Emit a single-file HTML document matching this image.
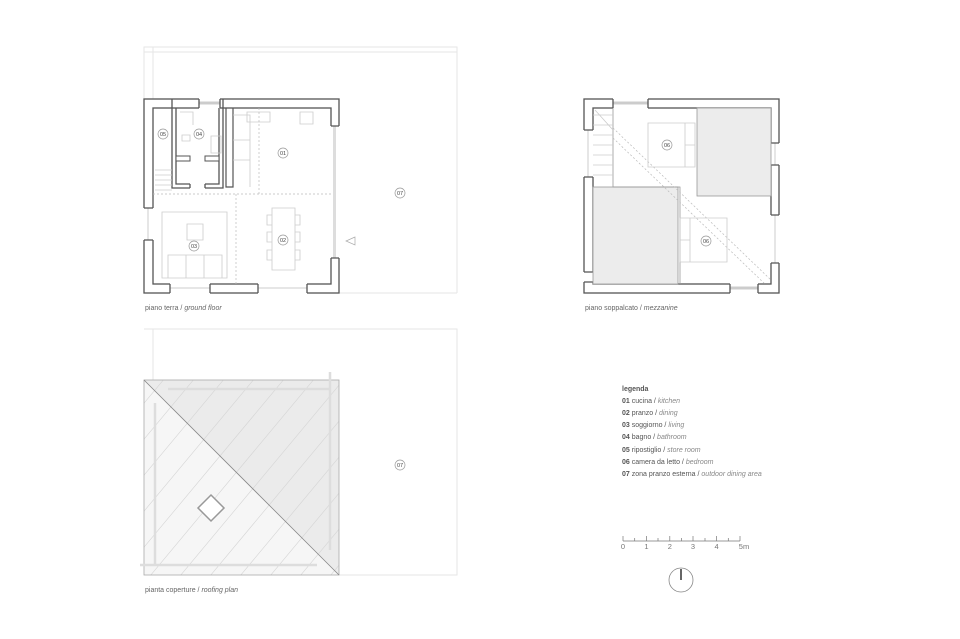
<!DOCTYPE html>
<html><head><meta charset="utf-8"><style>
html,body{margin:0;padding:0;background:#fff;}
svg{display:block;font-family:"Liberation Sans",sans-serif;}
.f{fill:none;stroke:#e6e6e6;stroke-width:1;}
.l{fill:none;stroke:#ccc;stroke-width:0.8;}
.d{fill:none;stroke:#bbb;stroke-width:0.7;stroke-dasharray:2 2;}
.c{fill:#fff;stroke:#999;stroke-width:0.7;}
.n{font-size:5.5px;fill:#444;text-anchor:middle;}
.cap{font-size:7px;fill:#666;}
.lg{font-size:7px;fill:#555;}
.lg tspan.i{font-style:italic;fill:#888;}
.lg tspan.b{font-weight:bold;}
.e{stroke:#555;stroke-width:1.3;fill:none;}
</style></head><body>
<svg width="960" height="639" viewBox="0 0 960 639">
<rect width="960" height="639" fill="#fff"/>
<!-- GROUND FLOOR -->
<path class="f" d="M144 293V47H457V293M144 52H457M153 47V293M339 293H457"/>
<rect x="144" y="99" width="195" height="194" fill="#fff" stroke="#555" stroke-width="1.3"/>
<rect x="153" y="108" width="178" height="176" fill="#fff" stroke="#555" stroke-width="1.3"/>
<rect x="199" y="97" width="21" height="12" fill="#fff"/>
<line x1="199" y1="103" x2="220" y2="103" stroke="#ccc" stroke-width="3"/>
<rect x="143" y="208" width="11" height="32" fill="#fff"/>
<line x1="148" y1="208" x2="148" y2="240" stroke="#ccc"/>
<rect x="330" y="126" width="10" height="132" fill="#fff"/>
<rect x="333" y="126" width="3" height="132" fill="#ddd"/>
<rect x="170" y="283" width="40" height="11" fill="#fff"/>
<rect x="258" y="283" width="49" height="11" fill="#fff"/>
<line x1="170" y1="288" x2="210" y2="288" stroke="#ccc"/>
<line x1="258" y1="288" x2="307" y2="288" stroke="#ccc"/>
<path class="e" d="M199 99V108M220 99V108M144 208H153M144 240H153M331 126H339M331 258H339M170 284V293M210 284V293M258 284V293M307 284V293"/>
<!-- bathroom -->
<path d="M172 99V188H223V99" fill="none" stroke="#555" stroke-width="1.3"/>
<path d="M176 108V184H219V108" fill="none" stroke="#555" stroke-width="1.3"/>
<rect x="176" y="156" width="14" height="5" fill="#fff" stroke="#555" stroke-width="1"/>
<rect x="205" y="156" width="14" height="5" fill="#fff" stroke="#555" stroke-width="1"/>
<rect x="190" y="183" width="15" height="6" fill="#fff"/>
<path class="e" d="M190 184V188M205 184V188"/>
<path d="M226 108V187H233V108" fill="none" stroke="#555" stroke-width="1.2"/>
<path class="l" d="M155 170H172M155 175H172M155 180H172M155 185H172M155 190H172M180 112H193V125M182 135h8v6h-8zM211 136h10v17h-10z"/>
<!-- kitchen -->
<path class="l" d="M233 115H250V187M233 140H250M233 160H250M247 112h23v10h-23zM300 112h13v12h-13z"/>
<path class="d" d="M259 108V194H331M236 194V284M153 194H331"/>
<!-- living -->
<path class="l" d="M162 212h65v66h-65zM168 255h54v23h-54zM186 255v23M204 255v23M187 224h16v16h-16z"/>
<!-- dining -->
<path class="l" d="M272 208h23v62h-23zM267 215h5v10h-5zM267 232h5v10h-5zM267 250h5v10h-5zM295 215h5v10h-5zM295 232h5v10h-5zM295 250h5v10h-5z"/>
<polygon points="355,237 346,241 355,245" fill="none" stroke="#aaa" stroke-width="0.7"/>
<g><circle class="c" cx="163" cy="134" r="5"/><text class="n" x="163" y="136">05</text>
<circle class="c" cx="199" cy="134" r="5"/><text class="n" x="199" y="136">04</text>
<circle class="c" cx="283" cy="153" r="5"/><text class="n" x="283" y="155">01</text>
<circle class="c" cx="194" cy="246" r="5"/><text class="n" x="194" y="248">03</text>
<circle class="c" cx="283" cy="240" r="5"/><text class="n" x="283" y="242">02</text>
<circle class="c" cx="400" cy="193" r="5"/><text class="n" x="400" y="195">07</text></g>
<text class="cap" x="145" y="310">piano terra / <tspan font-style="italic">ground floor</tspan></text>

<!-- MEZZANINE -->
<rect x="584" y="99" width="195" height="194" fill="#fff" stroke="#555" stroke-width="1.3"/>
<rect x="593" y="108" width="178" height="176" fill="#fff" stroke="#555" stroke-width="1.3"/>
<rect x="613" y="97" width="35" height="12" fill="#fff"/>
<line x1="613" y1="103" x2="648" y2="103" stroke="#ccc" stroke-width="3"/>
<rect x="583" y="130" width="11" height="47" fill="#fff"/>
<rect x="583" y="272" width="11" height="10" fill="#fff"/>
<rect x="770" y="143" width="10" height="22" fill="#fff"/>
<rect x="770" y="215" width="10" height="48" fill="#fff"/>
<path d="M775 143V165M775 215V263M588 130V177" stroke="#ccc"/>
<rect x="730" y="283" width="28" height="11" fill="#fff"/>
<line x1="730" y1="288" x2="758" y2="288" stroke="#ccc" stroke-width="3"/>
<path class="e" d="M613 99V108M648 99V108M584 130H593M584 177H593M584 272H593M584 282H593M771 143H779M771 165H779M771 215H779M771 263H779M730 284V293M758 284V293"/>
<rect x="697" y="108" width="74" height="88" fill="#ececec" stroke="#999" stroke-width="0.8"/>
<rect x="593" y="187" width="85" height="97" fill="#ececec" stroke="#999" stroke-width="0.8"/>
<path d="M613 108V187H680V284" fill="none" stroke="#999" stroke-width="0.8"/>
<path class="l" d="M593 115H613M593 125H613M593 135H613M593 145H613M593 155H613M593 165H613M593 175H613M595 110L613 130"/>
<path class="d" d="M613 128L771 280M613 138L765 284"/>
<path class="l" d="M648 123h47v44h-47zM685 123v44M685 145h10M680 218h47v44h-47zM690 218v44M680 240h10"/>
<circle class="c" cx="667" cy="145" r="5"/><text class="n" x="667" y="147">06</text>
<circle class="c" cx="706" cy="241" r="5"/><text class="n" x="706" y="243">06</text>
<text class="cap" x="585" y="310">piano soppalcato / <tspan font-style="italic">mezzanine</tspan></text>

<!-- ROOF -->
<path class="f" d="M144 329H457V575H339M153 329V380"/>
<polygon points="144,380 339,380 339,575" fill="#ebebeb"/>
<polygon points="144,380 339,575 144,575" fill="#f6f6f6"/>
<clipPath id="rc"><rect x="144" y="380" width="195" height="195"/></clipPath>
<g clip-path="url(#rc)" stroke="#d4d4d4" stroke-width="0.6">
<path d="M100 600L300 360M130 600L330 360M160 600L360 360M190 600L390 360M220 600L420 360M250 600L450 360M280 600L480 360M310 600L510 360M70 600L270 360M40 600L240 360M10 600L210 360M-20 600L180 360"/>
</g>
<rect x="144" y="380" width="195" height="195" fill="none" stroke="#aaa" stroke-width="0.8"/>
<line x1="144" y1="380" x2="339" y2="575" stroke="#888" stroke-width="0.8"/>
<path d="M168 389H330M330 372V550M155 403V565M140 565H317" stroke="#ddd" stroke-width="2.5" fill="none"/>
<polygon points="211,495 224,508 211,521 198,508" fill="#fff" stroke="#999" stroke-width="1.5"/>
<circle class="c" cx="400" cy="465" r="5"/><text class="n" x="400" y="467">07</text>
<text class="cap" x="145" y="592">pianta coperture / <tspan font-style="italic">roofing plan</tspan></text>

<!-- LEGEND -->
<text class="lg" x="622" y="391" font-weight="bold" fill="#444">legenda</text>
<text class="lg" x="622" y="403"><tspan class="b">01</tspan> cucina / <tspan class="i">kitchen</tspan></text>
<text class="lg" x="622" y="415"><tspan class="b">02</tspan> pranzo / <tspan class="i">dining</tspan></text>
<text class="lg" x="622" y="427"><tspan class="b">03</tspan> soggiorno / <tspan class="i">living</tspan></text>
<text class="lg" x="622" y="439"><tspan class="b">04</tspan> bagno / <tspan class="i">bathroom</tspan></text>
<text class="lg" x="622" y="452"><tspan class="b">05</tspan> ripostiglio / <tspan class="i">store room</tspan></text>
<text class="lg" x="622" y="464"><tspan class="b">06</tspan> camera da letto / <tspan class="i">bedroom</tspan></text>
<text class="lg" x="622" y="476"><tspan class="b">07</tspan> zona pranzo esterna / <tspan class="i">outdoor dining area</tspan></text>
<path d="M623 541H740M623 536V541M634.7 538V541M646.4 536V541M658 538V541M669.8 536V541M681.5 538V541M693 536V541M705 538V541M716.6 536V541M728.3 538V541M740 536V541" stroke="#777" stroke-width="0.7" fill="none"/>
<g font-size="7.5px" fill="#777" text-anchor="middle"><text x="623" y="549">0</text><text x="646.4" y="549">1</text><text x="669.8" y="549">2</text><text x="693" y="549">3</text><text x="716.6" y="549">4</text><text x="744" y="549">5m</text></g>
<circle cx="681" cy="580" r="12" fill="none" stroke="#888" stroke-width="0.8"/>
<line x1="681" y1="569" x2="681" y2="580" stroke="#333" stroke-width="1.5"/>
</svg>
</body></html>
